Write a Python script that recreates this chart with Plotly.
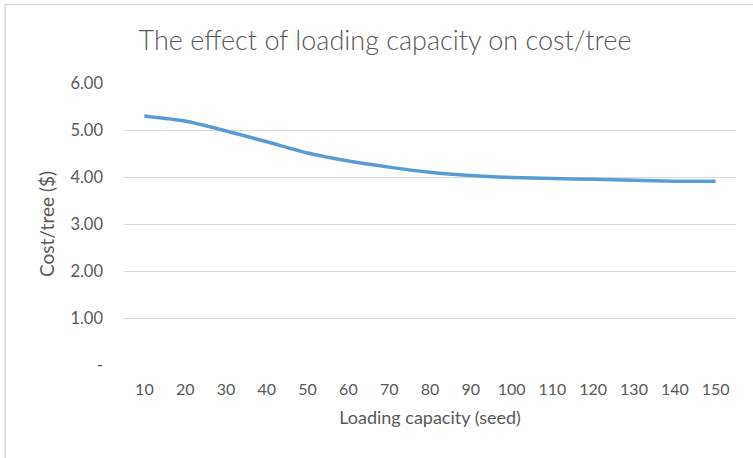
import plotly.graph_objects as go

capacity = [10, 20, 30, 40, 50, 60, 70, 80, 90, 100, 110, 120, 130, 140, 150]
cost_per_tree = [5.30, 5.19, 4.98, 4.75, 4.51, 4.34, 4.21, 4.10, 4.03, 3.99, 3.97, 3.95, 3.93, 3.91, 3.91]
y_ticks = [0, 1, 2, 3, 4, 5, 6]
y_tick_labels = ["-", "1.00", "2.00", "3.00", "4.00", "5.00", "6.00"]

FONT = "Lato"
GREY = "#595959"

fig = go.Figure()
fig.add_trace(go.Scatter(
    x=capacity, y=cost_per_tree, mode="lines",
    line=dict(color="#5B9BD5", width=3.5, shape="spline", smoothing=0.6),
    showlegend=False, hoverinfo="x+y",
))

L, R, T, B = 123.5, 16.5, 83, 93
W, H = 753, 458
pw, ph = W - L - R, H - T - B

fig.update_layout(
    width=W, height=H,
    margin=dict(l=L, r=R, t=T, b=B, autoexpand=False),
    paper_bgcolor="white", plot_bgcolor="white",
    font=dict(family=FONT, color=GREY, size=16),
    title=dict(text="The effect of loading capacity on cost/tree",
               x=385 / W, xanchor="center", y=1 - 41 / H, yanchor="middle",
               font=dict(size=27, color=GREY, family=FONT, weight=300)),
    xaxis=dict(range=[5, 155], tickvals=capacity, ticktext=[str(c) for c in capacity],
               showgrid=False, zeroline=False, showline=False, ticks="",
               ticklabelstandoff=13, tickfont=dict(size=16, color=GREY),
               title=dict(text="Loading capacity (seed)", standoff=14,
                          font=dict(size=18, color=GREY))),
    yaxis=dict(range=[0, 6], tickvals=y_ticks, ticktext=y_tick_labels,
               showgrid=True, gridcolor="#d9d9d9", gridwidth=1, zeroline=False,
               showline=False, ticks="", ticklabelstandoff=20,
               tickfont=dict(size=16.5, color=GREY),
               title=dict(text="Cost/tree ($)", standoff=10,
                          font=dict(size=19, color=GREY))),
    shapes=[dict(type="rect", xref="paper", yref="paper",
                 x0=(4.5 - L) / pw, x1=1.2, y0=-0.6, y1=(H - B - 4.5) / ph,
                 line=dict(color="#d9d9d9", width=1.5), layer="below")],
)

fig.write_html("out.html", config={"displayModeBar": False},
               post_script="document.body.style.margin='0';")
